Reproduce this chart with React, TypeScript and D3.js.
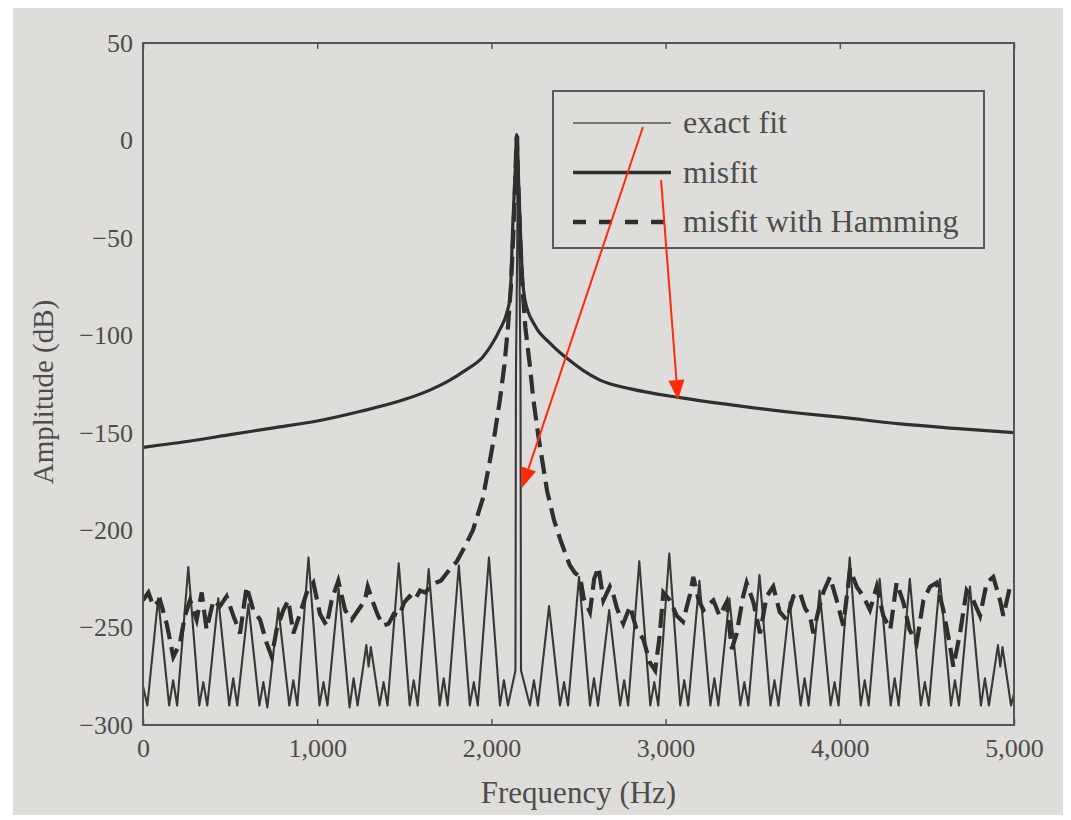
import React, { useRef, useEffect } from 'react';
import * as d3 from 'd3';

const freqTicks = [0, 1000, 2000, 3000, 4000, 5000];
const ampTicks = [50, 0, -50, -100, -150, -200, -250, -300];

// exact fit (thin line)
const exactFreq = [
  0, 25, 87, 150, 173, 196,
  260, 323, 346, 369,
  432, 495, 518, 541,
  605, 668, 691, 714,
  777, 840, 863, 886,
  950, 1013, 1036, 1059,
  1123, 1186, 1209, 1232,
  1282, 1295, 1308, 1358, 1381, 1404,
  1468, 1531, 1554, 1577,
  1640, 1703, 1726, 1749,
  1813, 1876, 1899, 1922,
  1986, 2049, 2072, 2095,
  2138, 2141, 2154, 2167, 2170, 2221, 2244, 2267,
  2331, 2394, 2417, 2440,
  2503, 2566, 2589, 2612,
  2676, 2739, 2762, 2785,
  2849, 2912, 2935, 2958,
  3021, 3084, 3107, 3130,
  3194, 3257, 3280, 3303,
  3366, 3429, 3452, 3475,
  3539, 3602, 3625, 3648,
  3712, 3775, 3798, 3821,
  3884, 3947, 3970, 3993,
  4057, 4120, 4143, 4166,
  4229, 4292, 4315, 4338,
  4402, 4465, 4488, 4511,
  4575, 4638, 4661, 4684,
  4747, 4810, 4833, 4856,
  4908, 4921, 4934, 4983, 5000,
];
const exactDb = [
  -280, -290, -235, -290, -277, -290,
  -219, -290, -278, -290,
  -235, -290, -276, -290,
  -238, -290, -278, -291,
  -240, -290, -277, -290,
  -214, -290, -278, -290,
  -230, -291, -276, -290,
  -259, -270, -260, -290, -278, -290,
  -217, -290, -277, -290,
  -220, -290, -276, -290,
  -218, -290, -278, -290,
  -214, -290, -277, -290,
  -272, -120, 2, -120, -272, -290, -277, -290,
  -239, -290, -278, -290,
  -224, -290, -276, -290,
  -241, -290, -277, -290,
  -216, -290, -278, -290,
  -212, -290, -277, -290,
  -226, -290, -276, -290,
  -235, -290, -278, -290,
  -223, -290, -277, -290,
  -237, -290, -276, -290,
  -231, -290, -278, -290,
  -214, -290, -277, -290,
  -225, -290, -276, -290,
  -225, -290, -278, -290,
  -225, -290, -277, -290,
  -229, -290, -276, -290,
  -259, -270, -260, -290, -284,
];

// misfit (thick solid)
const misfitFreq = [
  0, 250, 500, 750, 1000, 1250, 1500, 1650, 1762, 1850, 1952, 2000, 2049,
  2090, 2108, 2122, 2132, 2140, 2145, 2150, 2158, 2166, 2180, 2193,
  2250, 2336, 2450, 2526, 2623, 2800, 3083, 3400, 3772, 4000, 4346, 4700, 5000,
];
const misfitDb = [
  -157.5, -154.5, -151, -147.5, -144, -139, -133, -128, -123, -118, -111, -105, -97,
  -88, -80, -45, -25, -8, 3, -8, -25, -45, -72, -82,
  -95, -104, -113, -118, -123, -127.5, -132, -136, -140, -142, -145.5, -148, -150,
];

// misfit with Hamming (thick dashed)
const hammingFreq = [
  0, 31, 59, 98, 136, 174, 212, 241, 270, 308, 337, 365, 404, 442, 480, 519,
  557, 595, 633, 672, 710, 739, 767, 806, 834, 863, 901, 940, 978, 1016, 1054,
  1083, 1121, 1160, 1198, 1236, 1274, 1290, 1320, 1350, 1380, 1410, 1440, 1470,
  1500, 1530, 1560, 1590, 1620, 1650, 1680, 1710, 1762, 1802, 1850, 1894, 1950,
  1992, 2020, 2049, 2075, 2095, 2112, 2125, 2135, 2145, 2155, 2165, 2178, 2195,
  2220, 2241, 2270, 2320, 2360, 2400, 2450, 2480, 2509, 2530, 2566, 2590, 2615,
  2643, 2680, 2700, 2720, 2757, 2796, 2830, 2872, 2910, 2940, 2965, 2987, 3025,
  3064, 3100, 3140, 3159, 3190, 3217, 3250, 3274, 3310, 3350, 3380, 3408, 3445,
  3465, 3504, 3542, 3580, 3618, 3655, 3695, 3733, 3771, 3800, 3829, 3848, 3870,
  3905, 3944, 3982, 4020, 4059, 4097, 4135, 4173, 4212, 4250, 4290, 4326, 4365,
  4400, 4441, 4480, 4518, 4556, 4594, 4630, 4652, 4690, 4728, 4766, 4805, 4843,
  4881, 4920, 4939, 4977, 5000,
];
const hammingDb = [
  -236, -232, -239, -236, -248, -265, -258, -244, -236, -246, -232, -251, -236, -239, -234, -244,
  -253, -229, -241, -246, -258, -265, -251, -241, -236, -253, -243, -232, -227, -243, -249,
  -236, -226, -241, -246, -241, -236, -229, -237, -244, -249, -248, -243, -244,
  -237, -234, -236, -231, -232, -229, -227, -226, -220, -216, -208, -200, -184,
  -164, -150, -133, -115, -96, -75, -50, -25, 2, -25, -50, -75, -96,
  -115, -133, -152, -180, -195, -206, -218, -222, -224, -235, -242, -225, -219,
  -236, -229, -233, -240, -248, -239, -250, -256, -268, -272, -255, -232, -236,
  -244, -247, -233, -224, -236, -241, -238, -236, -244, -237, -261, -253, -234,
  -227, -237, -253, -234, -229, -242, -246, -234, -232, -240, -244, -253, -244,
  -232, -224, -236, -249, -220, -229, -234, -241, -229, -244, -251, -227, -237,
  -251, -258, -236, -229, -227, -241, -258, -270, -253, -231, -236, -244, -227,
  -224, -236, -244, -229, -227,
];

const legendLabels = ['exact fit', 'misfit', 'misfit with Hamming'];

// red annotation arrows: start (Hz, dB) -> tip (Hz, dB)
const arrowStartHz = [2870, 2974];
const arrowStartDb = [6.9, -20.3];
const arrowEndHz = [2176, 3071];
const arrowEndDb = [-178.3, -133.2];

const App = () => {
  const ref = useRef<SVGSVGElement>(null);

  useEffect(() => {
    const svg = d3.select(ref.current);
    svg.selectAll('*').remove();

    const W = 1071;
    const H = 820;
    const left = 143, right = 1014, top = 43, bottom = 725;
    const serif = '"Liberation Serif", "Times New Roman", serif';
    const textCol = '#4d4d4d';
    const lineCol = '#2f2f2f';

    // page photo background
    svg.append('rect').attr('width', W).attr('height', H).attr('fill', '#ffffff');
    svg.append('rect')
      .attr('x', 13).attr('y', 8).attr('width', 1050).attr('height', 807)
      .attr('fill', '#deddda');

    const x = d3.scaleLinear().domain([0, 5000]).range([left, right]);
    const y = d3.scaleLinear().domain([-300, 50]).range([bottom, top]);

    svg.append('defs').append('clipPath').attr('id', 'plotclip')
      .append('rect')
      .attr('x', left).attr('y', top)
      .attr('width', right - left).attr('height', bottom - top);

    // axes
    const xAxis = d3.axisBottom(x).tickValues(freqTicks)
      .tickFormat(d3.format(',')).tickSize(-6).tickPadding(14);
    const gx = svg.append('g').attr('transform', `translate(0,${bottom})`).call(xAxis);
    gx.selectAll('text')
      .attr('font-family', serif).attr('font-size', 26).attr('fill', textCol);

    const gxt = svg.append('g').attr('transform', `translate(0,${top})`)
      .call(d3.axisTop(x).tickValues(freqTicks).tickSize(-6).tickFormat(() => ''));

    const yAxis = d3.axisLeft(y).tickValues(ampTicks)
      .tickFormat((d) => (d < 0 ? '\u2212' + Math.abs(d) : String(d)))
      .tickSize(0).tickPadding(10);
    const gy = svg.append('g').attr('transform', `translate(${left},0)`).call(yAxis);
    gy.selectAll('text')
      .attr('font-family', serif).attr('font-size', 26).attr('fill', textCol);

    [gx, gxt, gy].forEach((g) => {
      g.select('.domain').remove();
      g.selectAll('line').attr('stroke', '#555').attr('stroke-width', 1.5);
    });

    // series
    const plot = svg.append('g').attr('clip-path', 'url(#plotclip)');
    const line = d3.line<number>()
      .x((d) => x(d[0]))
      .y((d) => y(d[1]));
    const smooth = d3.line<number>()
      .x((d) => x(d[0]))
      .y((d) => y(d[1]))
      .curve(d3.curveMonotoneX);

    const exactPts = exactFreq.map((f, i) => [f, exactDb[i]]);
    const misfitPts = misfitFreq.map((f, i) => [f, misfitDb[i]]);
    const hammingPts = hammingFreq.map((f, i) => [f, hammingDb[i]]);

    plot.append('path').datum(exactPts)
      .attr('fill', 'none').attr('stroke', '#383838').attr('stroke-width', 2.1)
      .attr('stroke-linejoin', 'round').attr('d', line as any);

    plot.append('path').datum(hammingPts)
      .attr('fill', 'none').attr('stroke', lineCol).attr('stroke-width', 4.2)
      .attr('stroke-dasharray', '19,8').attr('d', line as any);

    plot.append('path').datum(misfitPts)
      .attr('fill', 'none').attr('stroke', lineCol).attr('stroke-width', 3.2)
      .attr('stroke-linejoin', 'round').attr('d', smooth as any);

    // frame
    svg.append('rect')
      .attr('x', left).attr('y', top)
      .attr('width', right - left).attr('height', bottom - top)
      .attr('fill', 'none').attr('stroke', '#555').attr('stroke-width', 2);

    // axis titles
    svg.append('text')
      .attr('x', (left + right) / 2).attr('y', 803)
      .attr('text-anchor', 'middle')
      .attr('font-family', serif).attr('font-size', 31).attr('fill', textCol)
      .text('Frequency (Hz)');

    svg.append('text')
      .attr('transform', `translate(53,${(top + bottom) / 2 + 8}) rotate(-90)`)
      .attr('text-anchor', 'middle')
      .attr('font-family', serif).attr('font-size', 29).attr('fill', textCol)
      .text('Amplitude (dB)');

    // legend
    const lg = svg.append('g');
    lg.append('rect')
      .attr('x', 553).attr('y', 91).attr('width', 431).attr('height', 157)
      .attr('fill', 'none').attr('stroke', '#5a5a5a').attr('stroke-width', 2);
    const legendStyles = [
      { w: 1.6, dash: null, col: '#555' },
      { w: 3.5, dash: null, col: lineCol },
      { w: 4.5, dash: '13,13', col: lineCol },
    ];
    legendLabels.forEach((lab, i) => {
      const ry = 123 + i * 49.5;
      const st = legendStyles[i];
      const l = lg.append('line')
        .attr('x1', 573).attr('x2', 671).attr('y1', ry).attr('y2', ry)
        .attr('stroke', st.col).attr('stroke-width', st.w);
      if (st.dash) l.attr('stroke-dasharray', st.dash);
      lg.append('text')
        .attr('x', 683).attr('y', ry + 10)
        .attr('font-family', serif).attr('font-size', 32).attr('fill', textCol)
        .text(lab);
    });

    // red arrows
    const red = '#ff2a0a';
    arrowStartHz.forEach((_, i) => {
      const x0 = x(arrowStartHz[i]);
      const y0 = y(arrowStartDb[i]);
      const x1 = x(arrowEndHz[i]);
      const y1 = y(arrowEndDb[i]);
      const ang = Math.atan2(y1 - y0, x1 - x0);
      const len = 20, half = 8;
      const bx = x1 - len * Math.cos(ang);
      const by = y1 - len * Math.sin(ang);
      svg.append('line')
        .attr('x1', x0).attr('y1', y0).attr('x2', bx).attr('y2', by)
        .attr('stroke', red).attr('stroke-width', 2);
      const px = -Math.sin(ang) * half;
      const py = Math.cos(ang) * half;
      svg.append('path')
        .attr('d', `M${x1},${y1}L${bx + px},${by + py}L${bx - px},${by - py}Z`)
        .attr('fill', red);
    });
  }, []);

  return (
    <svg
      ref={ref}
      width={1071}
      height={820}
      style={{ position: 'absolute', left: 0, top: 0, display: 'block' }}
    />
  );
};

export default App;
